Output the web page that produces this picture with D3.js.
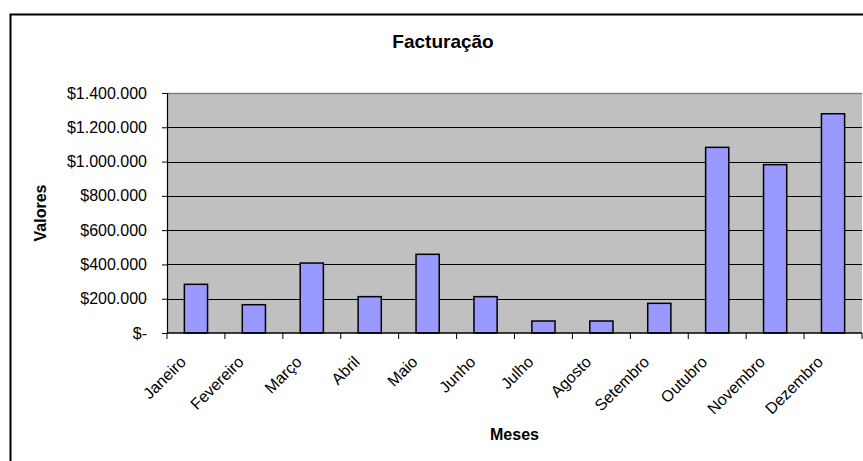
<!DOCTYPE html>
<html><head><meta charset="utf-8">
<script src="https://cdn.jsdelivr.net/npm/d3@7"></script>
<style>body{margin:0;background:#fff}svg{display:block}text{font-family:"Liberation Sans",Arial,sans-serif}</style>
</head><body>
<script>
const months = ["Janeiro","Fevereiro","Março","Abril","Maio","Junho","Julho","Agosto","Setembro","Outubro","Novembro","Dezembro"];
const values = [284000,165000,408000,212000,459000,212000,70000,70000,173000,1083000,982000,1279000];
const yTicks = [0,200000,400000,600000,800000,1000000,1200000,1400000];
const yTickLabels = ["$-","$200.000","$400.000","$600.000","$800.000","$1.000.000","$1.200.000","$1.400.000"];
const title = "Facturação", xTitle = "Meses", yTitle = "Valores";

const W = 863, H = 461;
const svg = d3.select("body").append("svg").attr("width", W).attr("height", H);
const m = {left:167, right:862, top:93, bottom:333};

svg.append("rect").attr("x",10.5).attr("y",14.5).attr("width",900).attr("height",500)
  .attr("fill","#fff").attr("stroke","#000").attr("stroke-width",2);

const x = d3.scaleBand().domain(months).range([m.left, m.right]).paddingInner(0).paddingOuter(0);
const y = d3.scaleLinear().domain([0,1400000]).range([m.bottom, m.top]);

svg.append("rect").attr("x",m.left).attr("y",m.top).attr("width",m.right-m.left).attr("height",m.bottom-m.top)
  .attr("fill","#c0c0c0");
svg.append("line").attr("x1",m.left).attr("x2",m.right).attr("y1",m.top+0.5).attr("y2",m.top+0.5)
  .attr("stroke","#808080").attr("stroke-width",1.5);

// gridlines
svg.append("g").selectAll("line").data(yTicks.slice(1,-1)).join("line")
  .attr("x1",m.left).attr("x2",m.right).attr("y1",d=>Math.round(y(d))+0.5).attr("y2",d=>Math.round(y(d))+0.5)
  .attr("stroke","#000").attr("stroke-width",1);

// bars
const bw = x.bandwidth()*0.4;
svg.append("g").selectAll("rect").data(values).join("rect")
  .attr("x",(d,i)=>x(months[i])+x.bandwidth()/2-bw/2)
  .attr("y",d=>y(d)).attr("width",bw).attr("height",d=>y(0)-y(d))
  .attr("fill","#9999ff").attr("stroke","#000").attr("stroke-width",1.5);

// y axis
const yAxis = d3.axisLeft(y).tickValues(yTicks).tickFormat((d,i)=>yTickLabels[i]).tickSize(5).tickPadding(15);
const gy = svg.append("g").attr("transform",`translate(${m.left},0)`).call(yAxis);
gy.select(".domain").attr("stroke","#000").attr("stroke-width",1.2).attr("d",`M0.5,${m.top}V${m.bottom}`);
gy.selectAll(".tick line").attr("stroke","#000");
gy.selectAll(".tick text").attr("fill","#000").style("font-size","16px");

// x axis
const xb = d3.scaleLinear().domain([0,months.length]).range([m.left,m.right]);
const gx = svg.append("g").attr("transform",`translate(0,${m.bottom})`);
gx.append("line").attr("x1",m.left).attr("x2",m.right).attr("y1",0).attr("y2",0).attr("stroke","#000").attr("stroke-width",1.5);
gx.selectAll("line.t").data(d3.range(months.length+1)).join("line").attr("class","t")
  .attr("x1",d=>xb(d)).attr("x2",d=>xb(d)).attr("y1",0).attr("y2",6).attr("stroke","#000").attr("stroke-width",1);
svg.append("g").selectAll("text").data(months).join("text")
  .attr("transform",d=>`translate(${x(d)+x.bandwidth()/2-9},${m.bottom+30}) rotate(-45)`)
  .attr("text-anchor","end").style("font-size","16px").attr("fill","#000").text(d=>d);

// titles
svg.append("text").attr("x",443).attr("y",48).attr("text-anchor","middle")
  .style("font-size","19px").style("font-weight","bold").text(title);
svg.append("text").attr("x",(m.left+m.right)/2).attr("y",440).attr("text-anchor","middle")
  .style("font-size","16px").style("font-weight","bold").text(xTitle);
svg.append("text").attr("transform",`translate(46,${(m.top+m.bottom)/2}) rotate(-90)`).attr("text-anchor","middle")
  .style("font-size","16px").style("font-weight","bold").text(yTitle);
</script>
</body></html>
